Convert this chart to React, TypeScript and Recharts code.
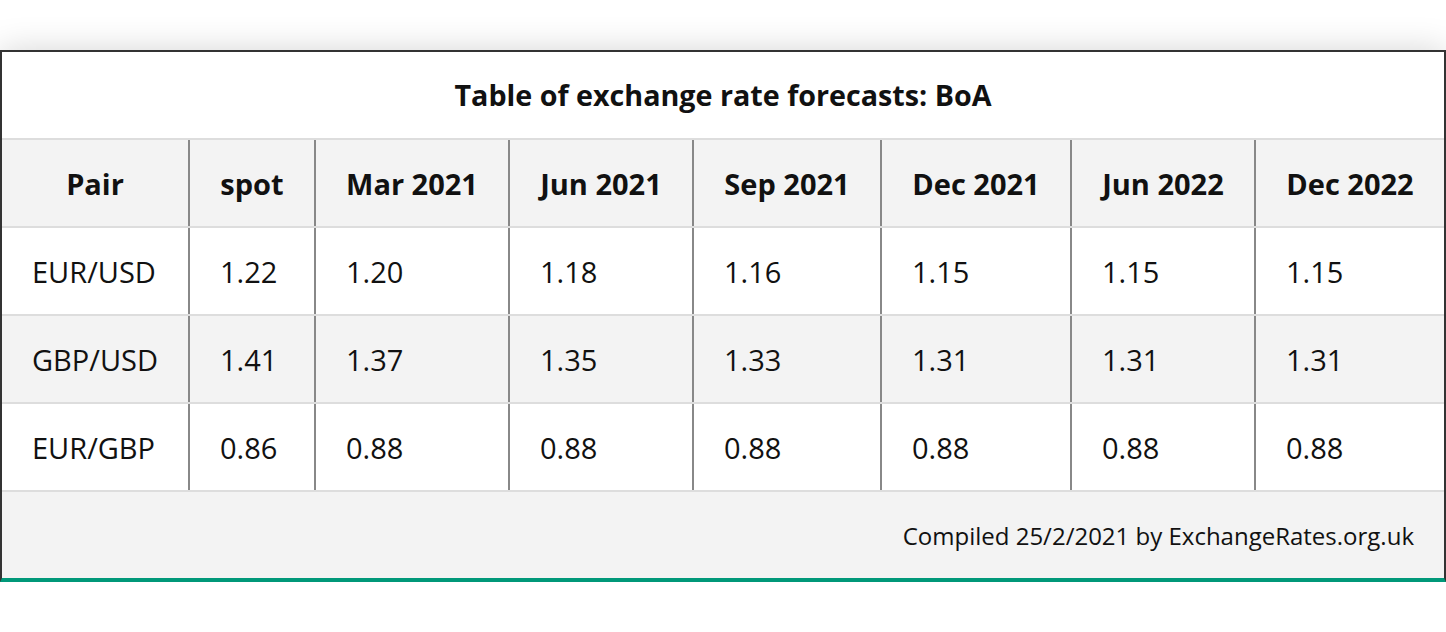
import React from 'react';
import { BarChart, Bar, XAxis, YAxis } from 'recharts';

const TITLE = 'Table of exchange rate forecasts: BoA';
const FOOTNOTE = 'Compiled 25/2/2021 by ExchangeRates.org.uk';
const PAIRS = ['EUR/USD', 'GBP/USD', 'EUR/GBP'];
const PERIODS = ['spot', 'Mar 2021', 'Jun 2021', 'Sep 2021', 'Dec 2021', 'Jun 2022', 'Dec 2022'];
const EUR_USD = [1.22, 1.2, 1.18, 1.16, 1.15, 1.15, 1.15];
const GBP_USD = [1.41, 1.37, 1.35, 1.33, 1.31, 1.31, 1.31];
const EUR_GBP = [0.86, 0.88, 0.88, 0.88, 0.88, 0.88, 0.88];

// layout
const COL_W = [188, 126, 194, 184, 188, 190, 184, 188];
const INNER_W = 1442;
const ROW_H = 88;
const FONT = '"Open Sans", sans-serif';
const GREY = '#f3f3f3';

const SERIES = [EUR_USD, GBP_USD, EUR_GBP];
const rows = [
  { id: 'head', kind: 'head', cells: ['Pair', ...PERIODS] },
  ...PAIRS.map((p, i) => ({
    id: p,
    kind: i % 2 === 1 ? 'alt' : 'row',
    cells: [p, ...SERIES[i].map((v) => v.toFixed(2))],
  })),
];

function makeCell(col: number) {
  const last = col === COL_W.length - 1;
  return (props: any) => {
    const { x, y, width, height, payload } = props;
    const head = payload.kind === 'head';
    const fill = payload.kind === 'row' ? '#ffffff' : GREY;
    const w = last ? width : width - 2;
    const cy = y + (height - 2) / 2;
    return (
      <g>
        <rect x={x} y={y} width={width} height={height} fill={fill} />
        {!last && <rect x={x + width - 2} y={y} width={2} height={height} fill="#888888" />}
        <rect x={x} y={y + height - 2} width={width} height={2} fill="#dddddd" />
        <text
          x={head ? x + w / 2 : x + 30}
          y={cy}
          textAnchor={head ? 'middle' : 'start'}
          dominantBaseline="central"
          fontFamily={FONT}
          fontSize={29}
          fontWeight={head ? 700 : 400}
          fill="#111"
        >
          {payload.cells[col]}
        </text>
      </g>
    );
  };
}

export default function App() {
  return (
    <div style={{ paddingTop: 50, width: 1446 }}>
      <style>{'body{margin:0;background:#fff}'}</style>
      <div
        style={{
          width: 1446,
          boxSizing: 'border-box',
          borderTop: '2px solid #333',
          borderLeft: '2px solid #333',
          borderRight: '2px solid #333',
          borderBottom: '4px solid #009879',
          boxShadow: '0 0 32px rgba(0,0,0,0.17)',
          fontFamily: FONT,
          color: '#111',
        }}
      >
        <div
          style={{
            height: 86,
            lineHeight: '86px',
            borderBottom: '2px solid #dddddd',
            textAlign: 'center',
            fontWeight: 700,
            fontSize: 28.7,
            background: '#fff',
          }}
        >
          {TITLE}
        </div>
        <BarChart
          width={INNER_W}
          height={ROW_H * rows.length}
          data={rows}
          layout="vertical"
          margin={{ top: 0, right: 0, bottom: 0, left: 0 }}
          barCategoryGap={0}
          barGap={0}
        >
          <XAxis type="number" hide domain={[0, INNER_W]} />
          <YAxis type="category" dataKey="id" hide />
          {COL_W.map((w, i) => (
            <Bar
              key={i}
              dataKey={() => w}
              stackId="t"
              isAnimationActive={false}
              shape={makeCell(i)}
            />
          ))}
        </BarChart>
        <div
          style={{
            height: 86,
            lineHeight: '88px',
            background: GREY,
            textAlign: 'right',
            paddingRight: 30,
            fontSize: 24,
          }}
        >
          {FOOTNOTE}
        </div>
      </div>
    </div>
  );
}
